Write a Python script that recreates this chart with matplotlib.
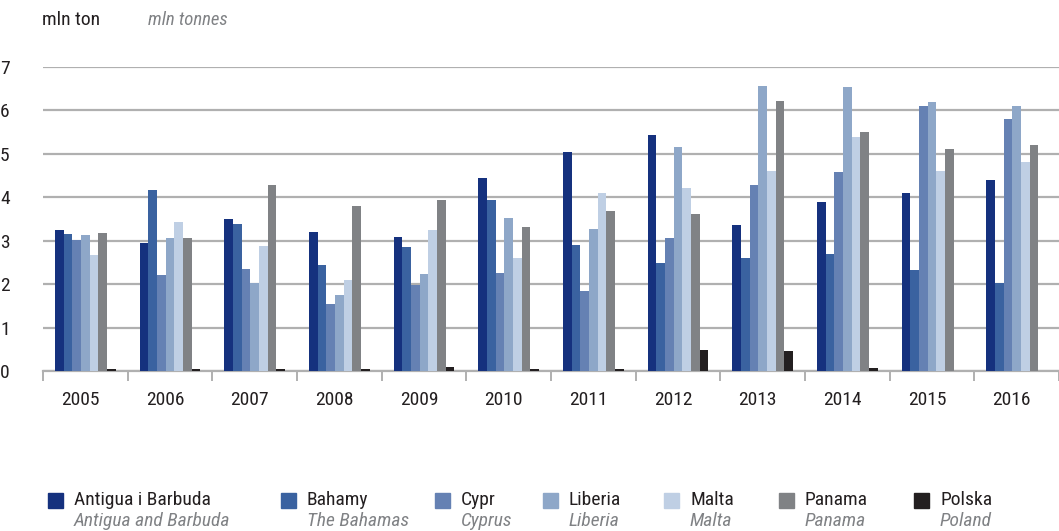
import numpy as np
import matplotlib.pyplot as plt
from matplotlib.patches import Rectangle

plt.rcParams['font.family'] = ['Roboto Condensed', 'Liberation Sans Narrow', 'Roboto', 'DejaVu Sans']

years = ['2005', '2006', '2007', '2008', '2009', '2010',
         '2011', '2012', '2013', '2014', '2015', '2016']

antigua = [3.25, 2.95, 3.50, 3.20, 3.08, 4.44, 5.04, 5.43, 3.36, 3.89, 4.10, 4.40]
bahamy = [3.15, 4.17, 3.38, 2.44, 2.85, 3.93, 2.90, 2.49, 2.60, 2.69, 2.33, 2.03]
cypr = [3.01, 2.21, 2.35, 1.54, 1.98, 2.25, 1.84, 3.06, 4.28, 4.58, 6.10, 5.80]
liberia = [3.13, 3.06, 2.03, 1.75, 2.23, 3.52, 3.27, 5.15, 6.56, 6.54, 6.19, 6.10]
malta = [2.67, 3.43, 2.88, 2.10, 3.24, 2.60, 4.10, 4.21, 4.60, 5.39, 4.60, 4.81]
panama = [3.18, 3.06, 4.28, 3.80, 3.93, 3.31, 3.68, 3.61, 6.22, 5.50, 5.11, 5.20]
polska = [0.04, 0.06, 0.06, 0.06, 0.09, 0.06, 0.06, 0.48, 0.46, 0.07, 0.0, 0.0]

series = [antigua, bahamy, cypr, liberia, malta, panama, polska]
names_pl = ['Antigua i Barbuda', 'Bahamy', 'Cypr', 'Liberia', 'Malta', 'Panama', 'Polska']
names_en = ['Antigua and Barbuda', 'The Bahamas', 'Cyprus', 'Liberia', 'Malta', 'Panama', 'Poland']
colors = ['#15317e', '#3a62a0', '#6581b3', '#8ea7c8', '#bfcfe4', '#808285', '#231f20']

fig = plt.figure(figsize=(10.59, 5.31), dpi=100)
ax = fig.add_axes([0.0406, 0.301, 0.9594, 0.573])

x = np.arange(len(years))
w = 0.102
for i, (vals, c) in enumerate(zip(series, colors)):
    ax.bar(x + (i - 3) * w, vals, width=w, color=c, zorder=3, linewidth=0)

ax.set_ylim(0, 7)
ax.set_xlim(-0.5, 11.46)
ax.set_yticks(range(8))
ax.grid(axis='y', color='#b0b0b0', linewidth=1.6, zorder=0)
for s in ['top', 'right', 'left']:
    ax.spines[s].set_visible(False)
ax.spines['bottom'].set_color('#b0b0b0')
ax.spines['bottom'].set_linewidth(1.6)
ax.tick_params(axis='y', length=0, labelsize=14, colors='#231f20')
# group boundaries as major ticks, year labels as minor ticks
ax.set_xticks(np.arange(-0.5, 12, 1))
ax.set_xticklabels([])
ax.set_xticks(x - 0.06, minor=True)
ax.set_xticklabels(years, minor=True)
ax.tick_params(axis='x', which='major', length=7, width=1.4, color='#b0b0b0')
ax.tick_params(axis='x', which='minor', length=0, pad=14, labelsize=14, colors='#231f20')
for lbl in ax.get_yticklabels():
    lbl.set_horizontalalignment('left')
ax.yaxis.set_tick_params(pad=31)

fig.text(42 / 1059, 1 - 20 / 531, 'mln ton', fontsize=14, color='#231f20', va='center')
fig.text(148 / 1059, 1 - 20 / 531, 'mln tonnes', fontsize=13.5, color='#808285',
         style='italic', va='center')

sq_x = [48, 281, 435, 543, 664, 779, 914]
for sx, c, pl, en in zip(sq_x, colors, names_pl, names_en):
    fig.patches.append(Rectangle((sx / 1059, 1 - 508 / 531), 15 / 1059, 15 / 531,
                                 transform=fig.transFigure, color=c, figure=fig))
    fig.text((sx + 26) / 1059, 1 - 500 / 531, pl, fontsize=14, color='#231f20', va='center')
    fig.text((sx + 26) / 1059, 1 - 521 / 531, en, fontsize=14, color='#808285',
             style='italic', va='center')

fig.savefig('out.png', dpi=100)
